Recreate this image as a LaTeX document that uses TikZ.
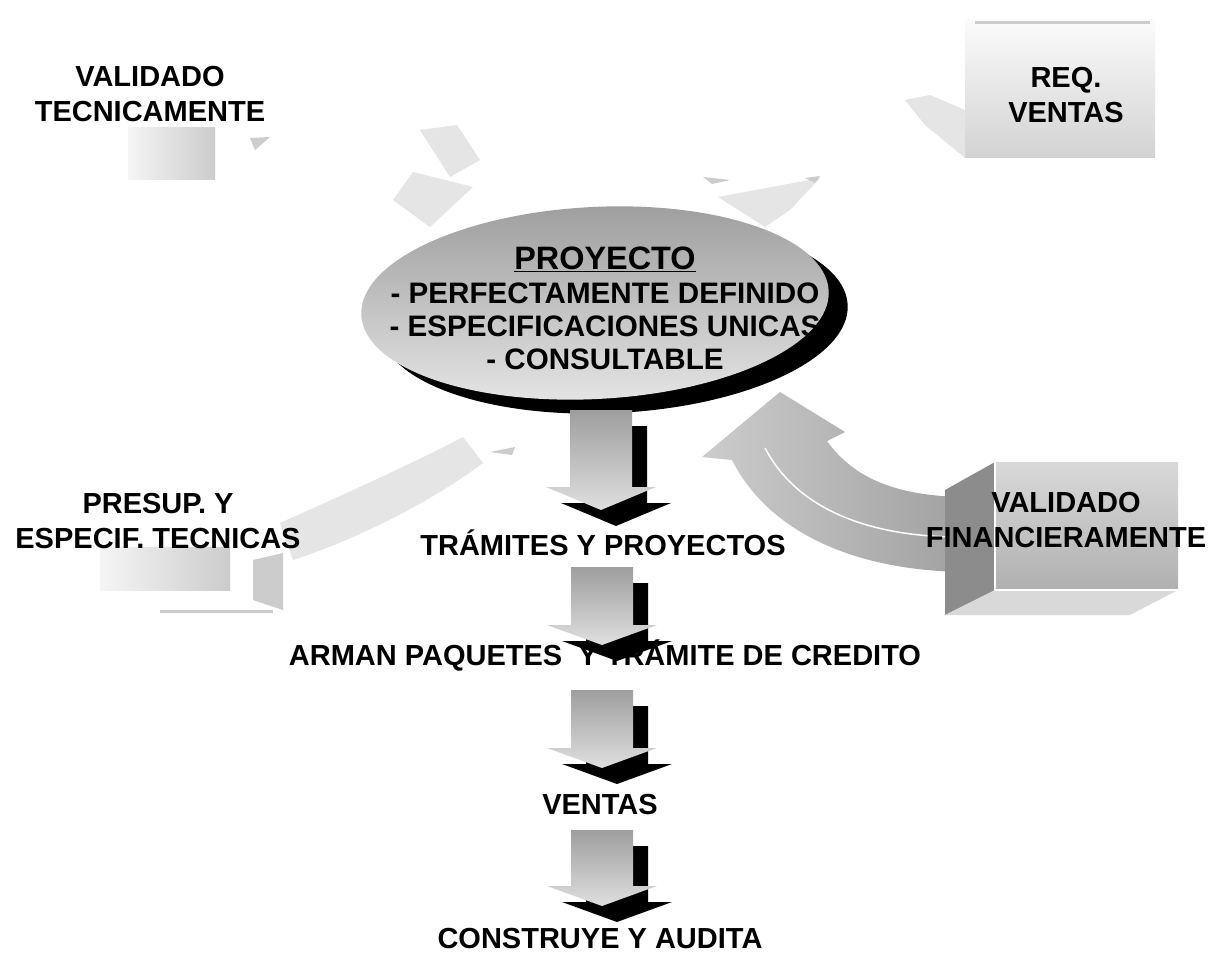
\documentclass[tikz,border=0pt]{standalone}
\usepackage{fontspec}
\setmainfont{Liberation Sans}
\usepackage{tikz}
\definecolor{grispalido}{rgb}{0.90,0.90,0.90}
\definecolor{grisleve}{rgb}{0.80,0.80,0.80}
\definecolor{grisflecha}{rgb}{0.62,0.62,0.62}
\definecolor{griscaja}{rgb}{0.55,0.55,0.55}

% flecha gruesa hacia abajo con sombra negra: x, arriba, base, punta
\newcommand{\bloque}[4]{%
  \fill[black, shift={(15,16)}] (#1-31,#2) -- (#1+31,#2) -- (#1+31,#3) -- (#1+55,#3) -- (#1,#3+#4) -- (#1-55,#3) -- (#1-31,#3) -- cycle;
  \shade[top color=grisflecha, bottom color=gray!25] (#1-31,#2) -- (#1+31,#2) -- (#1+31,#3) -- (#1+55,#3) -- (#1,#3+#4) -- (#1-55,#3) -- (#1-31,#3) -- cycle;
}

\begin{document}
\begin{tikzpicture}[x=1pt, y=-1pt, thin]
  \tikzstyle{etiqueta}=[align=center, inner sep=0pt, text=black, font=\fontsize{29}{35}\selectfont\bfseries]
  \tikzstyle{enelipse}=[align=center, inner sep=0pt, text=black, font=\fontsize{29.6}{33}\selectfont\bfseries]
  \tikzstyle{tenue}=[fill=grispalido]
  \tikzstyle{tenue2}=[fill=grisleve]

  \useasboundingbox (0,0) rectangle (1219,960);
  \fill[white] (0,0) rectangle (1219,960);

  % ciclo de flechas tenues
  \shade[left color=gray!8, right color=gray!40] (128,128) rectangle (215,180);
  \fill[tenue2] (250,138) -- (270,137) -- (255,150) -- cycle;
  \fill[tenue] (420,130) -- (457,125) -- (480,160) -- (450,177) -- cycle;
  \fill[tenue] (393,200) -- (413,172) -- (473,187) -- (430,227) -- cycle;
  \fill[tenue2] (703,177) -- (730,180) -- (712,184) -- cycle;
  \fill[tenue] (718,197) -- (820,178) -- (790,210) -- (765,227) -- cycle;
  \fill[tenue2] (805,178) -- (820,176) -- (815,183) -- cycle;
  \shade[top color=gray!3, bottom color=gray!35] (965,20) rectangle (1155,158);
  \draw[grisleve, line width=3pt] (975,23) -- (1150,23);
  \fill[tenue] (905,100) -- (930,95) -- (965,110) -- (965,158) -- (925,125) -- cycle;
  \fill[tenue] (463,437) .. controls (400,470) and (320,505) .. (280,523) -- (293,560) .. controls (340,545) and (420,510) .. (483,463) -- cycle;
  \fill[tenue2] (490,452) -- (515,447) -- (512,455) -- cycle;
  \shade[left color=gray!8, right color=gray!40] (100,547) rectangle (230,590);
  \fill[tenue2] (253,560) -- (283,553) -- (283,610) -- (253,600) -- cycle;
  \draw[grisleve, line width=3pt] (160,611) -- (273,611);

  % elipse del proyecto
  \fill[black, rotate around={3:(614,317)}] (614,317) ellipse [x radius=234, y radius=96];
  \shade[top color=gray!75, bottom color=gray!20, rotate around={3:(595,303)}] (595,303) ellipse [x radius=234, y radius=96];
  \node[enelipse] (proy) at (605,308) {{\fontsize{32.4}{36}\selectfont\underline{PROYECTO}}\\[1pt]
    - PERFECTAMENTE DEFINIDO\\
    - ESPECIFICACIONES UNICAS\\
    - CONSULTABLE};

  % etiquetas
  \node[etiqueta] (valtec) at (150,94) {VALIDADO\\TECNICAMENTE};
  \node[etiqueta] (reqven) at (1066,95) {REQ.\\VENTAS};
  \node[etiqueta] (presup) at (158,521) {PRESUP. Y\\ESPECIF. TECNICAS};
  \node[etiqueta] (tram) at (603,543) {TRÁMITES Y PROYECTOS};
  \node[etiqueta] (arman) at (605,655) {ARMAN PAQUETES\ \ Y TRÁMITE DE CREDITO};
  \node[etiqueta] (ventas) at (600,805) {VENTAS};
  \node[etiqueta] (constr) at (600,939) {CONSTRUYE Y AUDITA};

  % flechas de flujo
  \bloque{601}{410}{487}{23}
  \bloque{602}{567}{625}{20}
  \bloque{602}{690}{748}{20}
  \bloque{602}{830}{886}{20}

  % flecha curva y caja de validacion financiera
  \shade[left color=gray!40, right color=gray!75] (780,392) -- (845,432) -- (827,441) .. controls (855,480) and (900,497) .. (970,497) -- (970,572) .. controls (860,572) and (770,535) .. (732,460) -- (702,457) -- cycle;
  \draw[white, line width=1.5pt] (765,448) .. controls (800,515) and (880,537) .. (960,537);
  \fill[griscaja] (995,462) -- (945,490) -- (945,615) -- (995,590) -- cycle;
  \fill[gray!30] (945,615) -- (1130,615) -- (1178,590) -- (995,590) -- cycle;
  \shade[top color=gray!30, bottom color=gray!62] (995,462) rectangle (1178,590);
  \draw[white, line width=1.5pt] (995,462) -- (995,590) -- (1178,590);
  \node[etiqueta] (valfin) at (1066,520) {VALIDADO\\FINANCIERAMENTE};
\end{tikzpicture}
\end{document}
